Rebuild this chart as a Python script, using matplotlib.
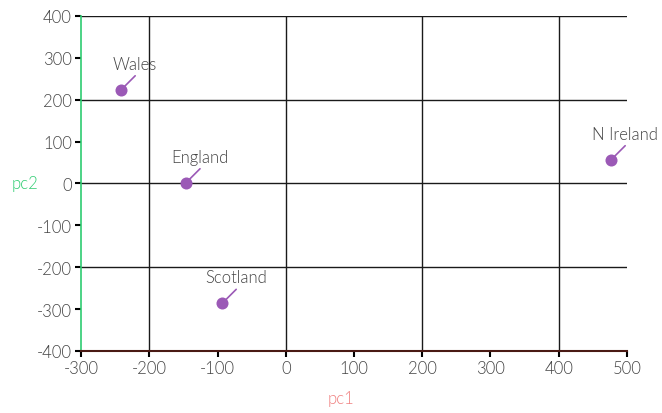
import matplotlib.pyplot as plt
from matplotlib import font_manager as fm
import numpy as np

plt.rcParams['font.family'] = ['Lato', 'DejaVu Sans']
plt.rcParams['axes.unicode_minus'] = False

# Lato Light, picked by file so the weight match cannot land on Hairline
light_path = [f.fname for f in fm.fontManager.ttflist if f.fname.endswith('Lato-Light.ttf')][0]
light = fm.FontProperties(fname=light_path, size=12)

countries = ['Wales', 'England', 'Scotland', 'N Ireland']
pc1 = [-241, -146, -93, 477]
pc2 = [224, 2, -286, 57]

x_ticks = np.arange(-300, 501, 100)
y_ticks = np.arange(-400, 401, 100)
x_grid = [-200, 0, 200, 400]
y_grid = [-200, 0, 200, 400]

purple = '#9b59b6'
green = '#2ecc71'
red = '#e74c3c'
grey = '#444444'

fig = plt.figure(figsize=(6.62, 4.14), dpi=100)
ax = fig.add_axes([0.1224, 0.1498, 0.8247, 0.8092])

for gx in x_grid:
    ax.axvline(gx, color='#1a1a1a', lw=1, zorder=1)
for gy in y_grid:
    ax.axhline(gy, color='#1a1a1a', lw=1, zorder=1)

ax.scatter(pc1, pc2, s=75, color=purple, zorder=3, linewidths=0)
for name, x, y in zip(countries, pc1, pc2):
    # leader line
    ax.annotate('', xy=(x, y), xytext=(10, 10), textcoords='offset points',
                arrowprops=dict(arrowstyle='-', color=purple, lw=1.2,
                                shrinkA=0, shrinkB=3))
    ax.annotate(name, xy=(x, y), xytext=(10, 13), textcoords='offset points',
                ha='center', va='bottom', fontproperties=light, color=grey)

ax.set_xlim(-300, 500)
ax.set_ylim(-400, 400)
ax.set_xticks(x_ticks)
ax.set_yticks(y_ticks)
ax.tick_params(length=4.5, width=1.5, color='black', labelcolor=grey, pad=2)
for lab in ax.get_xticklabels() + ax.get_yticklabels():
    lab.set_fontproperties(light)

xt = ax.xaxis.get_major_ticks()
xt[0].tick1line.set_color(red)
xt[-1].tick1line.set_color(red)
yt = ax.yaxis.get_major_ticks()
yt[0].tick1line.set_color(green)
yt[-1].tick1line.set_color(green)

ax.spines['top'].set_visible(False)
ax.spines['right'].set_visible(False)
ax.spines['left'].set_color(green)
ax.spines['bottom'].set_color('#4a1a14')
ax.spines['left'].set_linewidth(1.2)
ax.spines['bottom'].set_linewidth(1.5)

ax.set_xlabel('pc1', color='#f08080', fontproperties=light)
ax.set_ylabel('pc2', color=green, fontproperties=light, rotation=0, va='center')
ax.xaxis.set_label_coords(0.476, -0.116)
ax.yaxis.set_label_coords(-0.1026, 0.5)

fig.savefig('out.png', dpi=100)
